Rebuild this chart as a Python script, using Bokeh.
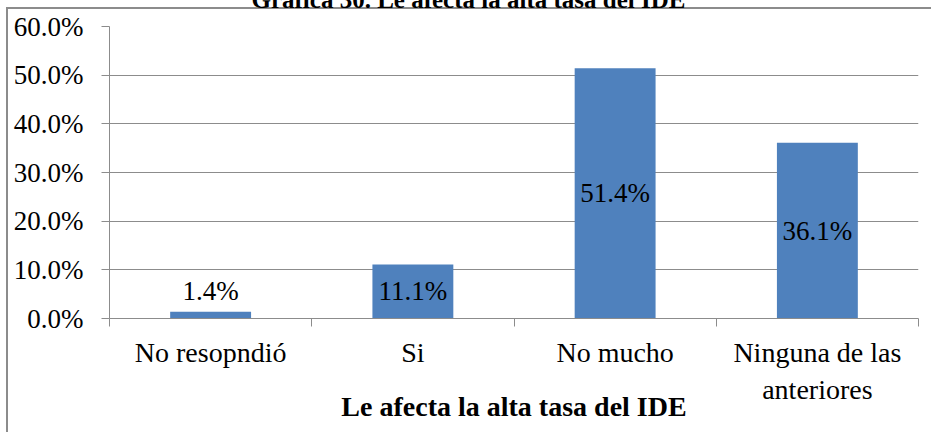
from bokeh.plotting import figure
from bokeh.models import ColumnDataSource, Range1d, FixedTicker, PrintfTickFormatter
from bokeh.core.properties import value
from bokeh.embed import file_html
from bokeh.resources import INLINE

# ---- data ----
categories = ["No resopndió", "Si", "No mucho", "Ninguna de las\nanteriores"]
values = [1.4, 11.1, 51.4, 36.1]
y_ticks = [0, 10, 20, 30, 40, 50, 60]
title_text = "Gráfica 30. Le afecta la alta tasa del IDE"
x_title = "Le afecta la alta tasa del IDE"

FONT = "Times New Roman"
BAR = "#4F81BD"
GRID = "#8c8c8c"

TOP_SHIFT = 44          # canvas starts this far above the page top
W, H = 925, 432 + TOP_SHIFT

xs = [i + 0.5 for i in range(len(categories))]
labels = [f"{v:.1f}%" for v in values]
label_y = [v / 2 if v / 2 >= 5 else v + 4.15 for v in values]

src = ColumnDataSource(dict(x=xs, top=values, ly=label_y, label=labels))

# chart-area border drawn behind a transparent canvas border region
line_y = TOP_SHIFT + 7
border_css = (
    f"linear-gradient({GRID},{GRID}) 0px {line_y}px / 100% 2px no-repeat, "
    f"linear-gradient({GRID},{GRID}) 0px {line_y}px / 2px 100% no-repeat, white"
)

p = figure(width=W, height=H, output_backend="svg", toolbar_location=None,
           x_range=Range1d(0, len(categories)), y_range=Range1d(0, 60),
           min_border_left=103, min_border_right=13, min_border_top=70,
           min_border_bottom=114, margin=(-TOP_SHIFT, 0, 0, 6),
           styles={"background": border_css})
p.outline_line_color = None
p.background_fill_color = "white"
p.border_fill_color = None

p.title.text = title_text
p.title.text_font = FONT
p.title.text_font_style = "bold"
p.title.text_font_size = "25px"
p.title.text_color = "black"
p.title.align = "left"
p.title.offset = 142
p.title.standoff = 28

p.vbar(x="x", top="top", width=0.4, bottom=0, source=src, fill_color=BAR, line_color=None)
p.text(x="x", y="ly", text="label", source=src, text_align="center", text_baseline="middle",
       text_font=value(FONT), text_font_size="27px", text_color="black")

# y axis
p.yaxis.ticker = FixedTicker(ticks=y_ticks)
p.yaxis.formatter = PrintfTickFormatter(format="%.1f%%")
p.yaxis.major_label_text_font = FONT
p.yaxis.major_label_text_font_size = "27px"
p.yaxis.major_label_text_color = "black"
p.yaxis.axis_line_color = GRID
p.yaxis.major_tick_line_color = GRID
p.yaxis.major_tick_out = 8
p.yaxis.major_tick_in = 0
p.yaxis.minor_tick_line_color = None
p.yaxis.major_label_standoff = 18

p.ygrid.ticker = FixedTicker(ticks=y_ticks)
p.ygrid.grid_line_color = GRID
p.xgrid.grid_line_color = None

# x axis: ticks between categories, labels at category centres
p.xaxis.ticker = FixedTicker(ticks=xs, minor_ticks=list(range(len(categories) + 1)))
p.xaxis.major_label_overrides = {x: c for x, c in zip(xs, categories)}
p.xaxis.major_label_text_font = FONT
p.xaxis.major_label_text_font_size = "28px"
p.xaxis.major_label_text_color = "black"
p.xaxis.major_tick_line_color = None
p.xaxis.major_tick_out = 0
p.xaxis.major_tick_in = 0
p.xaxis.minor_tick_line_color = GRID
p.xaxis.minor_tick_out = 8
p.xaxis.minor_tick_in = 0
p.xaxis.axis_line_color = GRID
p.xaxis.major_label_standoff = 10
p.xaxis.axis_label = x_title
p.xaxis.axis_label_text_font = FONT
p.xaxis.axis_label_text_font_style = "bold"
p.xaxis.axis_label_text_font_size = "28px"
p.xaxis.axis_label_text_color = "black"
p.xaxis.axis_label_standoff = -17

open("out.html", "w").write(file_html(p, INLINE))
